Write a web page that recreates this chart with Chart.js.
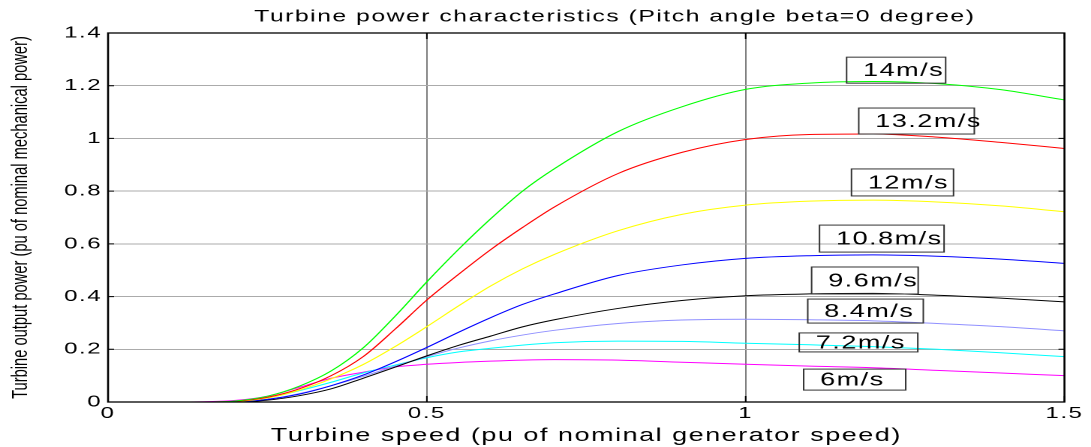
<!DOCTYPE html>
<html><head><meta charset="utf-8">
<script src="https://cdn.jsdelivr.net/npm/chart.js@4.4.1/dist/chart.umd.min.js"></script>
<style>
html,body{margin:0;padding:0;background:#fff;overflow:hidden;}
#wrap{position:absolute;left:0;top:0;width:727px;height:447px;transform:scaleX(1.5007);transform-origin:0 0;}
</style></head><body>
<div id="wrap"><canvas id="c"></canvas></div>
<script>
// ---- data ----
const speeds   = [0, 0.1, 0.15, 0.2, 0.25, 0.3, 0.35, 0.4, 0.45, 0.5, 0.55, 0.6, 0.65, 0.7, 0.8, 0.9, 1.0, 1.1, 1.2, 1.3, 1.4, 1.5];
const power14  = [0, 0, 0, 0.004, 0.022, 0.06, 0.118, 0.205, 0.325, 0.456, 0.58, 0.695, 0.80, 0.885, 1.026, 1.12, 1.186, 1.21, 1.216, 1.208, 1.185, 1.146];
const power132 = [0, 0, 0, 0.003, 0.018, 0.05, 0.1, 0.172, 0.276, 0.387, 0.485, 0.578, 0.662, 0.74, 0.867, 0.947, 0.996, 1.015, 1.017, 1.005, 0.985, 0.962];
const power12  = [0, 0, 0, 0.002, 0.015, 0.045, 0.088, 0.142, 0.21, 0.286, 0.365, 0.44, 0.505, 0.56, 0.65, 0.712, 0.747, 0.762, 0.766, 0.759, 0.744, 0.722];
const power108 = [0, 0, 0, 0.001, 0.01, 0.03, 0.062, 0.102, 0.152, 0.207, 0.265, 0.32, 0.37, 0.41, 0.48, 0.52, 0.545, 0.555, 0.558, 0.553, 0.542, 0.526];
const power96  = [0, 0, 0, 0, 0.007, 0.024, 0.05, 0.09, 0.132, 0.175, 0.215, 0.25, 0.285, 0.312, 0.355, 0.385, 0.403, 0.41, 0.412, 0.405, 0.394, 0.38];
const power84  = [0, 0, 0, 0.001, 0.01, 0.032, 0.062, 0.097, 0.136, 0.172, 0.205, 0.232, 0.254, 0.272, 0.298, 0.311, 0.314, 0.312, 0.308, 0.298, 0.286, 0.27];
const power72  = [0, 0, 0, 0.003, 0.015, 0.043, 0.075, 0.11, 0.14, 0.168, 0.19, 0.204, 0.216, 0.225, 0.231, 0.23, 0.223, 0.217, 0.21, 0.2, 0.187, 0.172];
const power6   = [0, 0, 0.001, 0.006, 0.022, 0.056, 0.09, 0.113, 0.133, 0.143, 0.15, 0.155, 0.159, 0.161, 0.159, 0.151, 0.143, 0.136, 0.13, 0.12, 0.11, 0.10];
const windLabels = ['14m/s', '13.2m/s', '12m/s', '10.8m/s', '9.6m/s', '8.4m/s', '7.2m/s', '6m/s'];
const labelX = [1.236, 1.268, 1.246, 1.2135, 1.187, 1.188, 1.177, 1.171];
const labelY = [1.259, 1.066, 0.833, 0.620, 0.461, 0.345, 0.226, 0.085];
const xTickLabels = ['0', '0.5', '1', '1.5'];
const yTickLabels = ['0', '0.2', '0.4', '0.6', '0.8', '1', '1.2', '1.4'];
const titleText = 'Turbine power characteristics (Pitch angle beta=0 degree)';
const xTitle = 'Turbine speed (pu of nominal generator speed)';
const yTitle = 'Turbine output power (pu of nominal mechanical power)';

// ---- styles ----
const seriesColors = ['#00ff00', '#ff0000', '#ffff00', '#0000ff', '#000000', '#9090ff', '#00ffff', '#ff00ff'];
const boxW = [66, 77, 68, 83, 71, 77, 79, 68];
const boxH = [26, 26, 27, 27, 27, 24, 19, 21];
const FONT = '"Liberation Sans", Arial, Helvetica, sans-serif';

const seriesValues = [power14, power132, power12, power108, power96, power84, power72, power6];
const datasets = seriesValues.map((vals, i) => ({
  label: windLabels[i],
  data: speeds.map((s, j) => ({x: s, y: vals[j]})),
  borderColor: seriesColors[i],
  backgroundColor: seriesColors[i],
  borderWidth: 1,
  pointRadius: 0,
  fill: false,
  cubicInterpolationMode: 'monotone'
}));

function setSpacing(ctx, v) { try { ctx.letterSpacing = v; } catch (e) {} }

const spacingPlugin = {
  id: 'spacing',
  beforeUpdate(chart) { setSpacing(chart.ctx, '1px'); },
  beforeDraw(chart) { setSpacing(chart.ctx, '1px'); }
};

const layoutTweaks = {
  id: 'layoutTweaks',
  afterLayout(chart) {
    if (chart.titleBlock) { chart.titleBlock.left += 55; chart.titleBlock.right += 55; }
    const ys = chart.scales.y;
    if (ys && !ys._wrappedTitle) {
      const orig = ys.drawTitle;
      ys.drawTitle = function () {
        setSpacing(this.ctx, '0px');
        orig.apply(this, arguments);
        setSpacing(this.ctx, '1px');
      };
      ys._wrappedTitle = true;
    }
  }
};

const framePlugin = {
  id: 'frame',
  afterDatasetsDraw(chart) {
    const {ctx, chartArea: a, scales: {x, y}} = chart;
    ctx.save();
    ctx.strokeStyle = '#000';
    ctx.lineWidth = 1.3;
    ctx.strokeRect(a.left, a.top, a.right - a.left, a.bottom - a.top);
    ctx.lineWidth = 1;
    ctx.beginPath();
    y.ticks.forEach(t => {
      const py = y.getPixelForValue(t.value);
      ctx.moveTo(a.left, py); ctx.lineTo(a.left + 4, py);
      ctx.moveTo(a.right, py); ctx.lineTo(a.right - 4, py);
    });
    x.ticks.forEach(t => {
      const px = x.getPixelForValue(t.value);
      ctx.moveTo(px, a.bottom); ctx.lineTo(px, a.bottom - 6);
      ctx.moveTo(px, a.top); ctx.lineTo(px, a.top + 6);
    });
    ctx.stroke();
    ctx.restore();
  }
};

const labelPlugin = {
  id: 'windLabels',
  afterDatasetsDraw(chart) {
    const {ctx, scales: {x, y}} = chart;
    ctx.save();
    ctx.strokeStyle = '#333';
    ctx.lineWidth = 1;
    ctx.fillStyle = '#000';
    ctx.font = '18px ' + FONT;
    ctx.textAlign = 'left';
    ctx.textBaseline = 'middle';
    windLabels.forEach((txt, i) => {
      const cx = x.getPixelForValue(labelX[i]);
      const cy = y.getPixelForValue(labelY[i]);
      const bx = cx - boxW[i] / 2, by = cy - boxH[i] / 2;
      ctx.strokeRect(bx, by, boxW[i], boxH[i]);
      ctx.fillText(txt, bx + 11, cy + 1);
    });
    ctx.restore();
  }
};

new Chart(document.getElementById('c'), {
  type: 'line',
  data: {datasets},
  options: {
    responsive: true,
    maintainAspectRatio: false,
    animation: false,
    devicePixelRatio: 2,
    layout: {padding: {left: 0, right: 17.7, top: 0, bottom: 0}},
    plugins: {
      legend: {display: false},
      tooltip: {enabled: false},
      title: {
        display: true,
        text: titleText,
        color: '#000',
        font: {family: FONT, size: 16.5, weight: 'normal'},
        padding: {top: 7, bottom: 6.2}
      }
    },
    scales: {
      x: {
        type: 'linear',
        min: 0, max: 1.5,
        ticks: {
          stepSize: 0.5,
          color: '#000',
          padding: 2,
          font: {family: FONT, size: 16},
          maxRotation: 0,
          callback: (v, i) => xTickLabels[i]
        },
        grid: {color: '#808080', lineWidth: 1, drawTicks: false},
        border: {display: false},
        title: {display: true, text: xTitle, color: '#000', font: {family: FONT, size: 18}, padding: {top: 0, bottom: 0}},
        afterFit: s => { s.height = 45; }
      },
      y: {
        type: 'linear',
        min: 0, max: 1.4,
        ticks: {
          stepSize: 0.2,
          color: '#000',
          padding: 4,
          font: {family: FONT, size: 16},
          callback: (v, i) => yTickLabels[i]
        },
        grid: {color: '#ababab', lineWidth: 1, drawTicks: false},
        border: {display: false},
        title: {display: true, text: yTitle, color: '#000', font: {family: FONT, size: 14.7}, padding: {top: 5, bottom: 0}},
        afterFit: s => { s.width = 72; }
      }
    }
  },
  plugins: [spacingPlugin, layoutTweaks, framePlugin, labelPlugin]
});
</script>
</body></html>
